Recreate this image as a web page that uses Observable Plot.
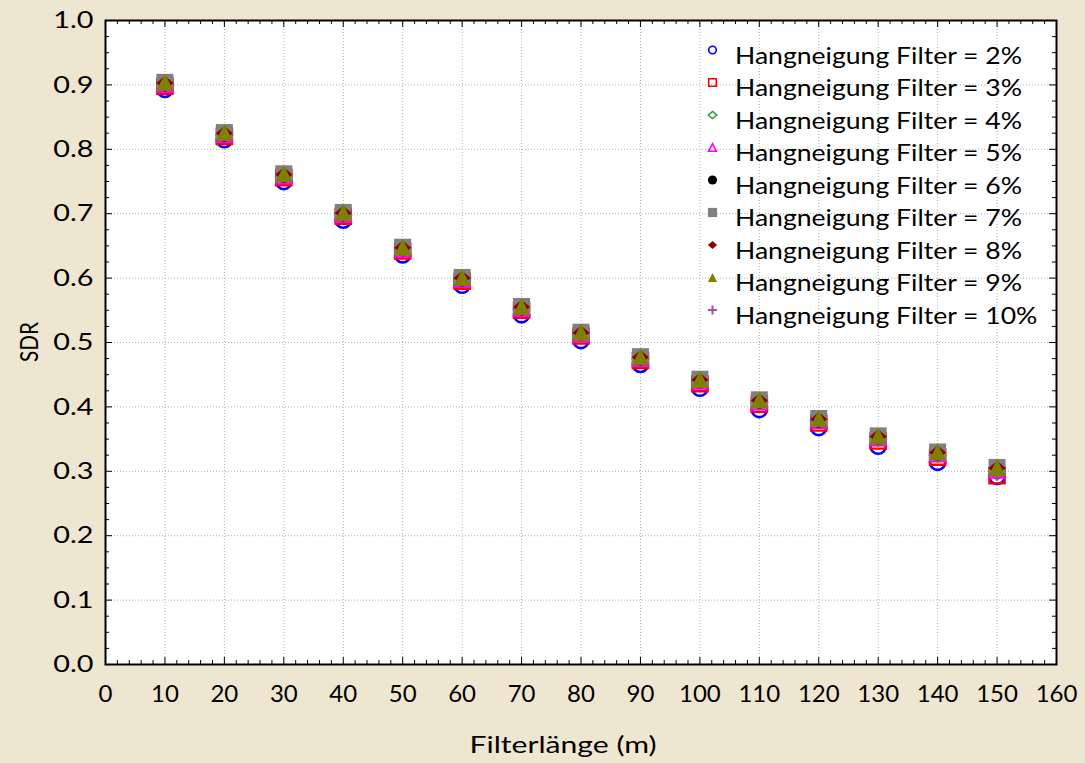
<!DOCTYPE html>
<html><head><meta charset="utf-8">
<script src="https://cdn.jsdelivr.net/npm/d3@7"></script>
<script src="https://cdn.jsdelivr.net/npm/@observablehq/plot@0.6"></script>
<style>
html,body{margin:0;padding:0;background:#EEE6D0;}
#wrap{position:relative;width:1085px;height:763px;background:#EEE6D0;}
#overlay{position:absolute;left:0;top:0;pointer-events:none;}
</style></head><body><div id="wrap"></div>
<script>
// ---- data ----
const filterLength = [10,20,30,40,50,60,70,80,90,100,110,120,130,140,150];
const slopeLabels = ["2%","3%","4%","5%","6%","7%","8%","9%","10%"];
const sdr2  = [0.893,0.815,0.750,0.690,0.636,0.589,0.543,0.503,0.466,0.429,0.396,0.368,0.339,0.314,0.292];
const sdr3  = [0.898,0.820,0.756,0.696,0.642,0.595,0.550,0.510,0.472,0.436,0.404,0.375,0.347,0.322,0.293];
const sdr4  = [0.900,0.822,0.758,0.698,0.644,0.597,0.552,0.512,0.474,0.439,0.407,0.378,0.350,0.325,0.297];
const sdr5  = [0.901,0.823,0.759,0.699,0.645,0.598,0.553,0.513,0.475,0.440,0.408,0.379,0.352,0.327,0.302];
const sdr6  = [0.903,0.825,0.761,0.701,0.647,0.600,0.555,0.515,0.477,0.442,0.410,0.381,0.354,0.329,0.305];
const sdr7  = [0.904,0.826,0.762,0.702,0.648,0.601,0.556,0.516,0.478,0.443,0.411,0.382,0.355,0.330,0.306];
const sdr8  = [0.903,0.825,0.761,0.701,0.647,0.600,0.555,0.515,0.477,0.442,0.410,0.381,0.354,0.329,0.305];
const sdr9  = [0.904,0.826,0.762,0.702,0.648,0.601,0.556,0.516,0.478,0.443,0.411,0.382,0.355,0.330,0.306];
const sdr10 = [0.903,0.825,0.761,0.701,0.647,0.600,0.555,0.515,0.477,0.442,0.410,0.381,0.354,0.329,0.305];
const xTickLabels = [0,10,20,30,40,50,60,70,80,90,100,110,120,130,140,150,160];
const yTickLabels = [0.0,0.1,0.2,0.3,0.4,0.5,0.6,0.7,0.8,0.9,1.0];
const xTitle = "Filterlänge (m)";
const yTitle = "SDR";
const legendPrefix = "Hangneigung Filter = ";

const seriesValues = [sdr2,sdr3,sdr4,sdr5,sdr6,sdr7,sdr8,sdr9,sdr10];
const rows = [];
slopeLabels.forEach((s, i) => filterLength.forEach((x, j) => rows.push({slope: s, x, sdr: seriesValues[i][j]})));

// ---- symbols ----
const A = s => Math.sqrt(s / Math.PI);
const sym = {
  circle: {draw(c, s) { const a = A(s); c.moveTo(a, 0); c.arc(0, 0, a, 0, 2 * Math.PI); c.closePath(); }},
  square: {draw(c, s) { const a = A(s); c.rect(-a, -a, 2 * a, 2 * a); }},
  diamond: {draw(c, s) { const a = A(s); c.moveTo(0, -a * 0.85); c.lineTo(a, 0); c.lineTo(0, a * 0.85); c.lineTo(-a, 0); c.closePath(); }},
  triangle: {draw(c, s) { const a = A(s); c.moveTo(0, -a); c.lineTo(a, a); c.lineTo(-a, a); c.closePath(); }},
  plus: {draw(c, s) { const a = A(s); c.moveTo(-a, 0); c.lineTo(a, 0); c.moveTo(0, -a); c.lineTo(0, a); }}
};
const styles = [
  {label: "2%",  symbol: sym.circle,   color: "#0000FF", filled: false, r: 7.6, lr: 3.8, sw: 2.6, lsw: 1.6},
  {label: "3%",  symbol: sym.square,   color: "#FF0000", filled: false, r: 7.6, lr: 3.8, sw: 2.4, lsw: 1.6},
  {label: "4%",  symbol: sym.diamond,  color: "#3C9A3C", filled: false, r: 7.6, lr: 4.2, sw: 2.4, lsw: 1.6},
  {label: "5%",  symbol: sym.triangle, color: "#FF00FF", filled: false, r: 7.6, lr: 3.8, sw: 2.2, lsw: 1.6},
  {label: "6%",  symbol: sym.circle,   color: "#000000", filled: true,  r: 8.5, lr: 4.6, sw: 0, lsw: 0},
  {label: "7%",  symbol: sym.square,   color: "#808080", filled: true,  r: 8.5, lr: 4.6, sw: 0, lsw: 0},
  {label: "8%",  symbol: sym.diamond,  color: "#8B0000", filled: true,  r: 8.5, lr: 4.6, sw: 0, lsw: 0},
  {label: "9%",  symbol: sym.triangle, color: "#808000", filled: true,  r: 8.5, lr: 4.6, sw: 0, lsw: 0},
  {label: "10%", symbol: sym.plus,     color: "#A050A8", filled: false, r: 8.0, lr: 4.6, sw: 2.0, lsw: 2.0}
];
const drawOrder = ["10%","2%","3%","4%","5%","6%","7%","8%","9%"];

const dotMarks = drawOrder.map(lab => {
  const st = styles.find(s => s.label === lab);
  return Plot.dot(rows.filter(r => r.slope === lab), {
    x: "x", y: "sdr", symbol: st.symbol, r: st.r,
    fill: st.filled ? st.color : "none",
    stroke: st.filled ? "none" : st.color,
    strokeWidth: st.sw
  });
});

// ---- layout ----
const W = 1085, H = 763, ML = 105, MR = 29, MT = 20, MB = 99;
const FW = W - ML - MR, FH = H - MT - MB;
const FONT = "Lato, 'Open Sans', sans-serif";
const xMajor = xTickLabels;
const xMinor = d3.range(0, 161, 2).filter(v => v % 10 !== 0);
const yMajor = yTickLabels;
const yMinor = d3.range(0, 41).map(i => i / 40).filter((v, i) => i % 4 !== 0);
const xGrid = xMajor.filter(v => v > 0 && v < 160);
const yGrid = yMajor.filter(v => v > 0 && v < 1);
const gridStyle = {stroke: "#b0b0b0", strokeDasharray: "1,2", strokeWidth: 1};
const majLen = 7, minLen = 4;

const plot = Plot.plot({
  width: W, height: H, marginLeft: ML, marginRight: MR, marginTop: MT, marginBottom: MB,
  style: {background: "transparent", fontFamily: FONT, fontSize: "24px", color: "black"},
  x: {domain: [0, 160], ticks: xTickLabels, tickSize: 0, tickPadding: 20, label: null, tickFormat: d => String(d)},
  y: {domain: [0, 1], ticks: yTickLabels, tickSize: 0, tickPadding: 12, label: null, tickFormat: d3.format(".1f")},
  marks: [
    Plot.frame({fill: "white", stroke: "none"}),
    Plot.ruleX(xGrid, gridStyle),
    Plot.ruleY(yGrid, gridStyle),
    ...dotMarks,
    Plot.ruleX(xMajor, {insetTop: FH - majLen, stroke: "black"}),
    Plot.ruleX(xMajor, {insetBottom: FH - majLen, stroke: "black"}),
    Plot.ruleX(xMinor, {insetTop: FH - minLen, stroke: "black"}),
    Plot.ruleX(xMinor, {insetBottom: FH - minLen, stroke: "black"}),
    Plot.ruleY(yMajor, {insetRight: FW - majLen, stroke: "black"}),
    Plot.ruleY(yMajor, {insetLeft: FW - majLen, stroke: "black"}),
    Plot.ruleY(yMinor, {insetRight: FW - minLen, stroke: "black"}),
    Plot.ruleY(yMinor, {insetLeft: FW - minLen, stroke: "black"}),
    Plot.frame({stroke: "black", strokeWidth: 2})
  ]
});
document.getElementById("wrap").appendChild(plot);
// mimic the wide lettering of the original on the y tick labels
d3.select(plot).selectAll("text").filter(function() { return /^\d\.\d$/.test(this.textContent); })
  .each(function() {
    const nat = this.getComputedTextLength();
    d3.select(this).attr("textLength", nat * 1.2).attr("lengthAdjust", "spacingAndGlyphs");
  });

// ---- overlay: axis titles and legend ----
const ov = d3.select("#wrap").append("svg").attr("id", "overlay").attr("width", W).attr("height", H)
  .style("font-family", FONT);
ov.append("text").attr("x", 563).attr("y", 753).attr("text-anchor", "middle")
  .attr("font-size", 24).attr("fill", "black")
  .attr("textLength", 187).attr("lengthAdjust", "spacingAndGlyphs").text(xTitle);
const g = ov.append("g").attr("transform", "translate(38,342) rotate(-90)");
g.append("text").attr("x", -20).attr("y", 0)
  .attr("font-size", 25).attr("fill", "black")
  .attr("textLength", 40).attr("lengthAdjust", "spacingAndGlyphs").text(yTitle);

const rowH = 32.5, cy0 = 50, mx = 712.5, tx = 735;
let stretch = null;
styles.forEach((st, i) => {
  const cy = cy0 + rowH * i;
  ov.append("path")
    .attr("transform", `translate(${mx},${cy})`)
    .attr("d", d3.symbol(st.symbol, Math.PI * st.lr * st.lr)())
    .attr("fill", st.filled ? st.color : "none")
    .attr("stroke", st.filled ? "none" : st.color)
    .attr("stroke-width", st.lsw);
  const t = ov.append("text").attr("x", tx).attr("y", cy + 13.5).attr("fill", "black")
    .attr("font-size", 23).text(legendPrefix + slopeLabels[i]);
  const nat = t.node().getComputedTextLength();
  if (stretch === null) stretch = 287 / nat;
  t.attr("textLength", nat * stretch).attr("lengthAdjust", "spacingAndGlyphs");
});
</script>
</body></html>
